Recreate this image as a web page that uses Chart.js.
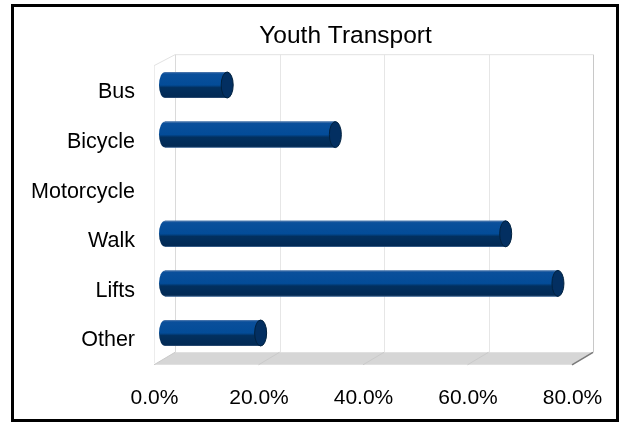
<!DOCTYPE html>
<html>
<head>
<meta charset="utf-8">
<title>Youth Transport</title>
<script src="https://cdn.jsdelivr.net/npm/chart.js@4"></script>
<style>
  html, body { margin: 0; padding: 0; background: #fff; }
  #wrap { width: 621px; height: 423px; }
</style>
</head>
<body>
<div id="wrap"><canvas id="transchart" width="621" height="423"></canvas></div>
<script>

/* Data */
var categories = ['Bus', 'Bicycle', 'Motorcycle', 'Walk', 'Lifts', 'Other'];
var shares = [12.0, 32.7, 0, 65.3, 75.3, 18.4];
var tickValues = [0, 20, 40, 60, 80];
var chartTitle = 'Youth Transport';

var DX = 10.5;   // half depth of the 3d box, x
var DY = 5.5;    // half depth, y


/* white page, title, black frame */
var framePlugin = {
  id: 'frame',
  beforeDraw: function (chart) {
    var c = chart.ctx;
    c.save();
    c.fillStyle = '#fff';
    c.fillRect(0, 0, chart.width, chart.height);
    c.restore();
  },
  afterDraw: function (chart) {
    var c = chart.ctx;
    c.save();
    c.fillStyle = '#000';
    c.font = '24.5px "Liberation Sans"';
    c.textAlign = 'center';
    c.textBaseline = 'alphabetic';
    c.fillText(chartTitle, 345.5, 43);

    c.strokeStyle = '#000';
    c.lineWidth = 3;
    c.strokeRect(12.5, 5.5, 605, 415);
    c.restore();
  }
};


/* back wall, left wall and floor */
var wallPlugin = {
  id: 'walls',
  beforeDatasetsDraw: function (chart) {
    var c = chart.ctx, a = chart.chartArea, xs = chart.scales.x;
    var L = a.left, R = a.right, T = a.top, B = a.bottom;
    c.save();
    c.lineWidth = 1;

    // gridlines on the back wall
    c.strokeStyle = '#e6e6e6';
    tickValues.forEach(function (v) {
      var px = Math.round(xs.getPixelForValue(v) + DX) + 0.5;
      c.beginPath();
      c.moveTo(px, T - DY);
      c.lineTo(px, B - DY);
      c.stroke();
    });

    // top edge of back wall + left wall
    c.strokeStyle = '#e2e2e2';
    c.beginPath();
    c.moveTo(L - DX, T + DY);
    c.lineTo(L + DX, T - DY);
    c.lineTo(R + DX, T - DY);
    c.stroke();
    c.strokeStyle = '#ececec';
    c.beginPath();
    c.moveTo(Math.round(L - DX) + 0.5, T + DY);
    c.lineTo(Math.round(L - DX) + 0.5, B + DY);
    c.stroke();
    c.strokeStyle = '#dadada';
    c.beginPath();
    c.moveTo(Math.round(L + DX) + 0.5, T - DY);
    c.lineTo(Math.round(L + DX) + 0.5, B - DY);
    c.stroke();
    c.strokeStyle = '#c8c8c8';
    c.beginPath();
    c.moveTo(Math.round(R + DX) + 0.5, T - DY);
    c.lineTo(Math.round(R + DX) + 0.5, B - DY);
    c.stroke();

    // floor
    c.fillStyle = '#d6d6d6';
    c.beginPath();
    c.moveTo(L + DX, B - DY);
    c.lineTo(R + DX, B - DY);
    c.lineTo(R - DX, B + DY + 1.5);
    c.lineTo(L - DX, B + DY + 1.5);
    c.closePath();
    c.fill();
    c.strokeStyle = '#cacaca';
    tickValues.forEach(function (v) {
      var px = xs.getPixelForValue(v);
      c.beginPath();
      c.moveTo(px + DX, B - DY);
      c.lineTo(px - DX, B + DY + 1.5);
      c.stroke();
    });
    c.strokeStyle = '#7a7a7a';
    c.lineWidth = 1.5;
    c.beginPath();
    c.moveTo(R + DX, B - DY);
    c.lineTo(R - DX, B + DY + 1.5);
    c.stroke();
    c.restore();
  }
};


/* turn the flat bars into cylinders */
var cylinderPlugin = {
  id: 'cylinders',
  afterDatasetsDraw: function (chart) {
    var c = chart.ctx;
    var meta = chart.getDatasetMeta(0);
    c.save();
    meta.data.forEach(function (bar, i) {
      if (!shares[i]) return;
      var x0 = bar.base, x1 = bar.x, yc = bar.y, r = bar.height / 2, rx = 6;

      var g = c.createLinearGradient(0, yc - r, 0, yc + r);
      g.addColorStop(0, '#5a7fb0');
      g.addColorStop(0.07, '#0a4f9b');
      g.addColorStop(0.5, '#034c98');
      g.addColorStop(0.6, '#02305f');
      g.addColorStop(0.95, '#022a55');
      g.addColorStop(1, '#3c5a80');

      c.fillStyle = g;
      c.beginPath();
      c.moveTo(x1, yc - r);
      c.lineTo(x0, yc - r);
      c.ellipse(x0, yc, rx, r, 0, -Math.PI / 2, Math.PI / 2, true);
      c.lineTo(x1, yc + r);
      c.closePath();
      c.fill();

      // end cap
      c.beginPath();
      c.ellipse(x1, yc, rx, r, 0, 0, Math.PI * 2);
      c.fillStyle = '#032f61';
      c.fill();
      c.strokeStyle = '#01213f';
      c.lineWidth = 1;
      c.stroke();
    });
    c.restore();
  }
};


var trans = document.getElementById('transchart');
var transchart = new Chart(trans, {
  type: 'bar',
  data: {
    labels: categories,
    datasets: [{
      label: chartTitle,
      data: shares,
      backgroundColor: function (ctx) {
        return ctx.raw ? '#034c98' : 'rgba(0,0,0,0)';
      },
      borderWidth: 0,
      inflateAmount: 0,
      barThickness: 26
    }]
  },
  options: {
    indexAxis: 'y',
    responsive: false,
    animation: false,
    layout: {
      padding: { left: 20, right: 38.5, top: 60.2, bottom: 0 }
    },
    plugins: {
      legend: { display: false },
      tooltip: { enabled: false },
      title: { display: false }
    },
    scales: {
      x: {
        min: 0,
        max: 80,
        afterFit: function (scale) { scale.height = 65.2; },
        afterBuildTicks: function (scale) {
          scale.ticks = tickValues.map(function (v) { return { value: v }; });
        },
        grid: {
          display: true,
          color: 'rgba(0,0,0,0)',
          drawOnChartArea: false,
          drawTicks: true,
          tickLength: 25
        },
        border: { display: false },
        ticks: {
          color: '#000',
          padding: 3,
          labelOffset: -10,
          font: { family: 'Liberation Sans', size: 21 },
          maxRotation: 0,
          callback: function (v) { return v.toFixed(1) + '%'; }
        }
      },
      y: {
        afterFit: function (scale) { scale.width = 144.5; },
        grid: {
          display: true,
          color: 'rgba(0,0,0,0)',
          drawOnChartArea: false,
          drawTicks: true,
          tickLength: 26.5
        },
        border: { display: false },
        ticks: {
          color: '#000',
          padding: 3,
          labelOffset: 7.5,
          font: { family: 'Liberation Sans', size: 21.5 }
        }
      }
    }
  },
  plugins: [framePlugin, wallPlugin, cylinderPlugin]
});

</script>
</body>
</html>
